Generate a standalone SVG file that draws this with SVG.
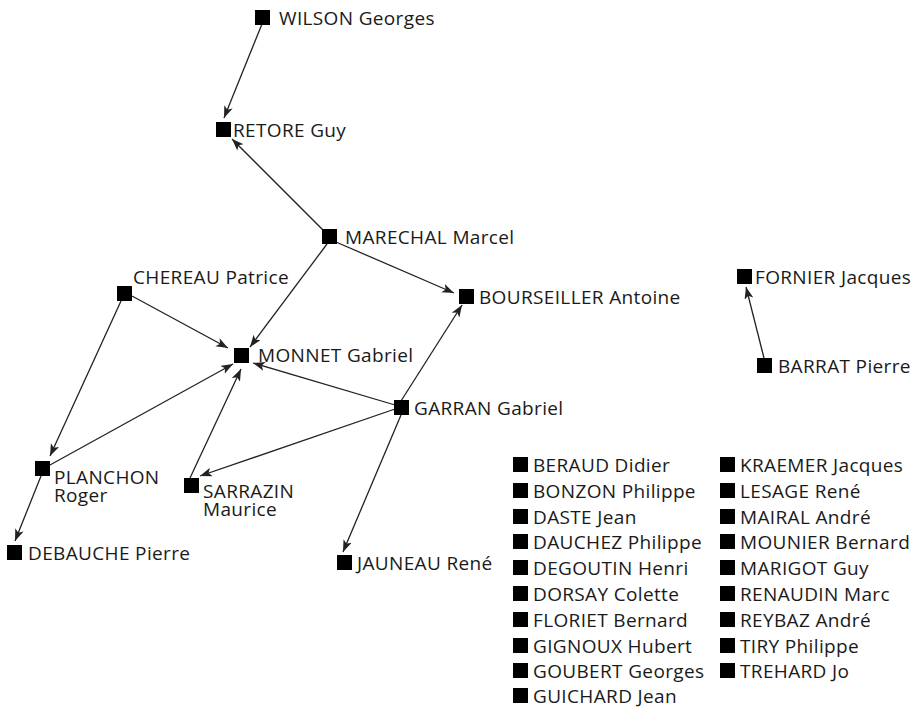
<svg xmlns="http://www.w3.org/2000/svg" width="916" height="709" viewBox="0 0 916 709">
<style>
text{font-family:"Open Sans","Noto Sans",sans-serif;font-size:19px;letter-spacing:0.35px;fill:#1a1a1a}
.sq{fill:#000}
.e{stroke:#222;stroke-width:1.3;fill:none;marker-end:url(#ah)}
</style>
<defs>
<marker id="ah" markerUnits="userSpaceOnUse" markerWidth="14" markerHeight="10" refX="12" refY="4.5" orient="auto">
<path d="M0,0 L12,4.5 L0,9 L3,4.5 z" fill="#222"/>
</marker>
</defs>
<rect width="916" height="709" fill="#fff"/>
<g id="connectors">
<line class="e" x1="262" y1="24" x2="224" y2="118"/>
<line class="e" x1="325" y1="232" x2="232" y2="139"/>
<line class="e" x1="336" y1="242" x2="454" y2="293"/>
<line class="e" x1="327" y1="244" x2="250" y2="347"/>
<line class="e" x1="132" y1="296" x2="228" y2="348"/>
<line class="e" x1="121" y1="301" x2="50" y2="456"/>
<line class="e" x1="50" y1="465" x2="233" y2="364"/>
<line class="e" x1="190" y1="478" x2="241" y2="369"/>
<line class="e" x1="395" y1="405" x2="253" y2="363"/>
<line class="e" x1="401" y1="401" x2="462" y2="305"/>
<line class="e" x1="395" y1="409" x2="200" y2="476"/>
<line class="e" x1="401" y1="415" x2="343" y2="552"/>
<line class="e" x1="41" y1="476" x2="15" y2="541"/>
<line class="e" x1="764" y1="358" x2="746" y2="287"/>
</g>
<g id="n-wilson"><rect class="sq" x="255" y="10" width="15" height="15"/><text x="279" y="25">WILSON Georges</text></g>
<g id="n-retore"><rect class="sq" x="216" y="122" width="15" height="15"/><text x="233" y="137">RETORE Guy</text></g>
<g id="n-marechal"><rect class="sq" x="322" y="229" width="15" height="15"/><text x="345" y="244">MARECHAL Marcel</text></g>
<g id="n-chereau"><rect class="sq" x="117" y="286" width="15" height="15"/><text x="133" y="284">CHEREAU Patrice</text></g>
<g id="n-bourseiller"><rect class="sq" x="459" y="289" width="15" height="15"/><text x="479" y="304">BOURSEILLER Antoine</text></g>
<g id="n-monnet"><rect class="sq" x="234" y="348" width="15" height="15"/><text x="258" y="362">MONNET Gabriel</text></g>
<g id="n-garran"><rect class="sq" x="394" y="400" width="15" height="15"/><text x="414" y="415">GARRAN Gabriel</text></g>
<g id="n-planchon"><rect class="sq" x="35" y="461" width="15" height="15"/><text x="54" y="484">PLANCHON<tspan x="54" dy="18">Roger</tspan></text></g>
<g id="n-sarrazin"><rect class="sq" x="184" y="478" width="15" height="15"/><text x="203" y="498">SARRAZIN<tspan x="203" dy="18">Maurice</tspan></text></g>
<g id="n-debauche"><rect class="sq" x="7" y="545" width="15" height="15"/><text x="28" y="560">DEBAUCHE Pierre</text></g>
<g id="n-jauneau"><rect class="sq" x="337" y="555" width="15" height="15"/><text x="357" y="570">JAUNEAU René</text></g>
<g id="n-fornier"><rect class="sq" x="737" y="269" width="15" height="15"/><text x="755" y="284">FORNIER Jacques</text></g>
<g id="n-barrat"><rect class="sq" x="757" y="358" width="15" height="15"/><text x="778" y="373">BARRAT Pierre</text></g>
<g id="n-beraud"><rect class="sq" x="513" y="457" width="15" height="15"/><text x="533" y="472">BERAUD Didier</text></g>
<g id="n-bonzon"><rect class="sq" x="513" y="483" width="15" height="15"/><text x="533" y="498">BONZON Philippe</text></g>
<g id="n-daste"><rect class="sq" x="513" y="509" width="15" height="15"/><text x="533" y="524">DASTE Jean</text></g>
<g id="n-dauchez"><rect class="sq" x="513" y="534" width="15" height="15"/><text x="533" y="549">DAUCHEZ Philippe</text></g>
<g id="n-degoutin"><rect class="sq" x="513" y="560" width="15" height="15"/><text x="533" y="575">DEGOUTIN Henri</text></g>
<g id="n-dorsay"><rect class="sq" x="513" y="586" width="15" height="15"/><text x="533" y="601">DORSAY Colette</text></g>
<g id="n-floriet"><rect class="sq" x="513" y="612" width="15" height="15"/><text x="533" y="627">FLORIET Bernard</text></g>
<g id="n-gignoux"><rect class="sq" x="513" y="638" width="15" height="15"/><text x="533" y="653">GIGNOUX Hubert</text></g>
<g id="n-goubert"><rect class="sq" x="513" y="663" width="15" height="15"/><text x="533" y="678">GOUBERT Georges</text></g>
<g id="n-guichard"><rect class="sq" x="513" y="688" width="15" height="15"/><text x="533" y="703">GUICHARD Jean</text></g>
<g id="n-kraemer"><rect class="sq" x="720" y="457" width="15" height="15"/><text x="740" y="472">KRAEMER Jacques</text></g>
<g id="n-lesage"><rect class="sq" x="720" y="483" width="15" height="15"/><text x="740" y="498">LESAGE René</text></g>
<g id="n-mairal"><rect class="sq" x="720" y="509" width="15" height="15"/><text x="740" y="524">MAIRAL André</text></g>
<g id="n-mounier"><rect class="sq" x="720" y="534" width="15" height="15"/><text x="740" y="549">MOUNIER Bernard</text></g>
<g id="n-marigot"><rect class="sq" x="720" y="560" width="15" height="15"/><text x="740" y="575">MARIGOT Guy</text></g>
<g id="n-renaudin"><rect class="sq" x="720" y="586" width="15" height="15"/><text x="740" y="601">RENAUDIN Marc</text></g>
<g id="n-reybaz"><rect class="sq" x="720" y="612" width="15" height="15"/><text x="740" y="627">REYBAZ André</text></g>
<g id="n-tiry"><rect class="sq" x="720" y="638" width="15" height="15"/><text x="740" y="653">TIRY Philippe</text></g>
<g id="n-trehard"><rect class="sq" x="720" y="663" width="15" height="15"/><text x="740" y="678">TREHARD Jo</text></g>
</svg>
